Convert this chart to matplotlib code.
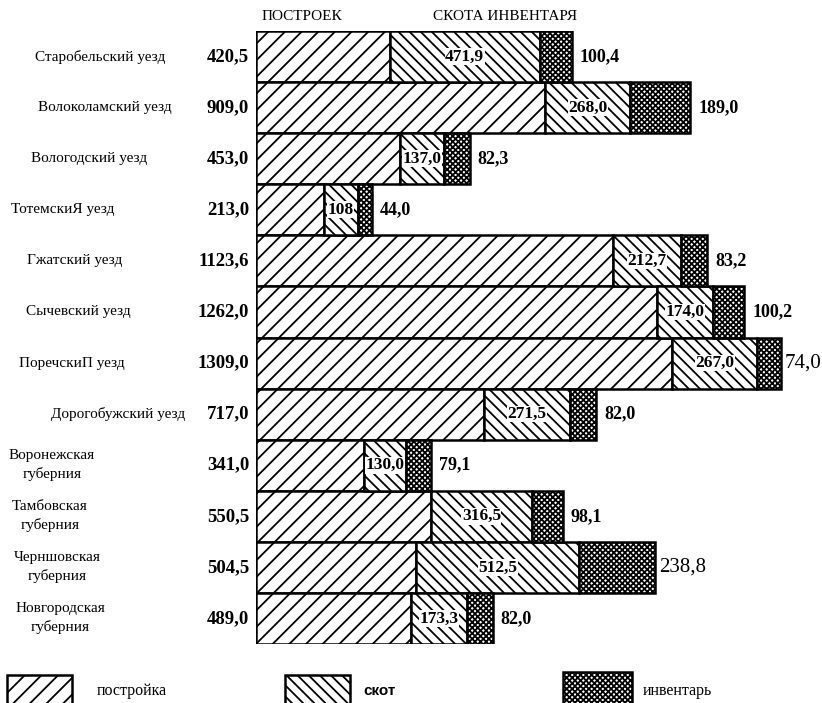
import matplotlib.pyplot as plt
from matplotlib.patches import Rectangle

plt.rcParams['font.family'] = ['Liberation Serif', 'DejaVu Serif']
plt.rcParams['hatch.linewidth'] = 1.3

# data
regions = ['Старобельский уезд', 'Волоколамский уезд', 'Вологодский уезд',
           'ТотемскиЯ уезд', 'Гжатский уезд', 'Сычевский уезд',
           'ПоречскиП уезд', 'Дорогобужский уезд', 'Воронежская\nгуберния',
           'Тамбовская\nгуберния', 'Черншовская\nгуберния',
           'Новгородская\nгуберния']
postroika = [420.5, 909.0, 453.0, 213.0, 1123.6, 1262.0, 1309.0, 717.0,
             341.0, 550.5, 504.5, 489.0]
skot = [471.9, 268.0, 137.0, 108.0, 212.7, 174.0, 267.0, 271.5,
        130.0, 316.5, 512.5, 173.3]
inventar = [100.4, 189.0, 82.3, 44.0, 83.2, 100.2, 74.0, 82.0,
            79.1, 98.1, 238.8, 82.0]
postroika_lbl = ['420,5', '909,0', '453,0', '213,0', '1123,6', '1262,0',
                 '1309,0', '717,0', '341,0', '550,5', '504,5', '489,0']
skot_lbl = ['471,9', '268,0', '137,0', '108', '212,7', '174,0', '267,0',
            '271,5', '130,0', '316,5', '512,5', '173,3']
inventar_lbl = ['100,4', '189,0', '82,3', '44,0', '83,2', '100,2', '74,0',
                '82,0', '79,1', '98,1', '238,8', '82,0']

# layout (pixels)
label_cx = [100, 105, 89, 63, 75, 78, 72, 118, 52, 50, 57, 60]
inv_bold = [True] * 12
inv_bold[6] = False
inv_bold[10] = False

fig = plt.figure(figsize=(8.22, 7.03), dpi=100)
ax = fig.add_axes([256 / 822, 59 / 703, 566 / 822, 613 / 703])
ax.set_xlim(0, 1780)
ax.set_ylim(11.5, -0.5)
ax.axis('off')

ypos = list(range(len(regions)))
left2 = [p + s for p, s in zip(postroika, skot)]

ax.barh(ypos, postroika, height=1.0, color='white', edgecolor='black',
        hatch='//', linewidth=1.8)
ax.barh(ypos, skot, left=postroika, height=1.0, color='white',
        edgecolor='black', hatch='\\\\\\', linewidth=1.8)
ax.barh(ypos, inventar, left=left2, height=1.0, color='white',
        edgecolor='black', hatch='xxxxxx', linewidth=1.8)

for i in ypos:
    # values on the left
    ax.annotate(postroika_lbl[i], xy=(0, i), xytext=(-7, 0),
                textcoords='offset pixels', ha='right', va='center',
                fontsize=13.5, fontweight='bold')
    # region names
    ax.annotate(regions[i], xy=(0, i), xytext=(label_cx[i] - 256, 0),
                textcoords='offset pixels', ha='center', va='center',
                fontsize=11, linespacing=1.45)
    # cattle values
    ax.text(postroika[i] + skot[i] / 2, i, skot_lbl[i], ha='center',
            va='center', fontsize=12.5, fontweight='bold',
            bbox=dict(facecolor='white', edgecolor='none', pad=0.2))
    # inventory values
    ax.annotate(inventar_lbl[i], xy=(left2[i] + inventar[i], i),
                xytext=(8 if inv_bold[i] else 4, 0),
                textcoords='offset pixels', ha='left', va='center',
                fontsize=13 if inv_bold[i] else 15,
                fontweight='bold' if inv_bold[i] else 'normal')

fig.text(262 / 822, 1 - 17 / 703, 'ПОСТРОЕК', fontsize=11, va='center')
fig.text(433 / 822, 1 - 17 / 703, 'СКОТА ИНВЕНТАРЯ', fontsize=11, va='center')

# legend
lax = fig.add_axes([0, 0, 1, 1])
lax.set_xlim(0, 822)
lax.set_ylim(703, 0)
lax.axis('off')
lax.add_patch(Rectangle((7, 675), 65, 30, facecolor='white',
                        edgecolor='black', hatch='//', linewidth=1.8))
lax.add_patch(Rectangle((285, 675), 65, 30, facecolor='white',
                        edgecolor='black', hatch='\\\\\\', linewidth=1.8))
lax.add_patch(Rectangle((563, 672), 69, 33, facecolor='white',
                        edgecolor='black', hatch='xxxxxx', linewidth=1.8))
lax.text(97, 691, 'постройка', fontsize=11.5, va='center')
lax.text(363, 691, 'скот', fontsize=11, va='center', fontweight='bold',
         family=['Liberation Sans Narrow', 'Liberation Sans', 'DejaVu Sans'])
lax.text(643, 691, 'инвентарь', fontsize=11.5, va='center')

fig.savefig('out.png', dpi=100)
